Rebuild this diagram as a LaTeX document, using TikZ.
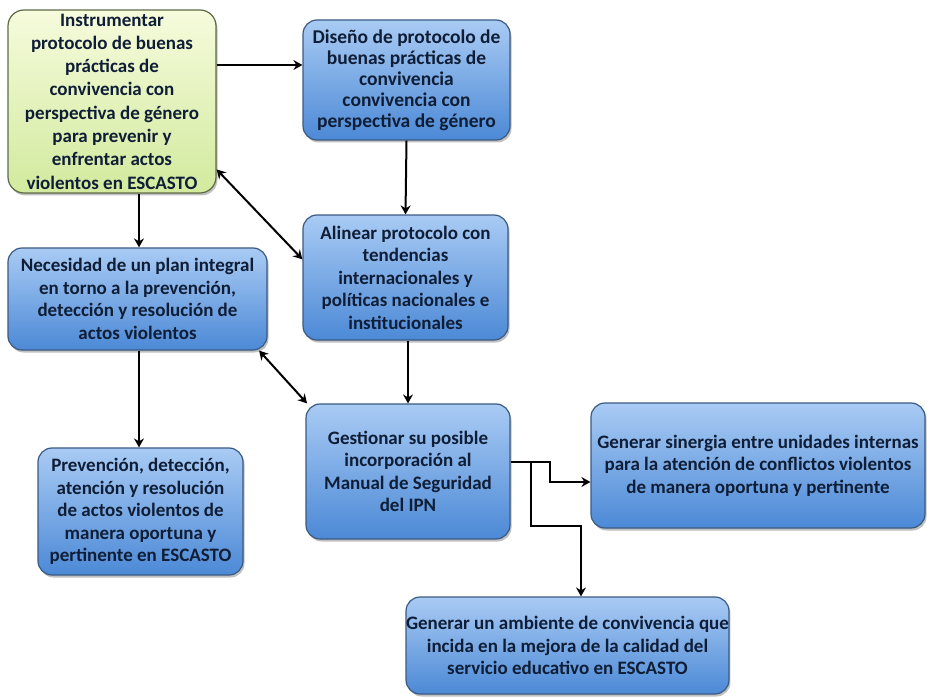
\documentclass[tikz,border=0pt]{standalone}
\usepackage{fontspec}
\setmainfont{Carlito}
\usetikzlibrary{arrows.meta,shadows,calc}
\definecolor{txt}{HTML}{0F1E36}
\definecolor{bluetop}{HTML}{A9CBF4}
\definecolor{bluebot}{HTML}{4C89D6}
\definecolor{blueedge}{HTML}{3B5A82}
\definecolor{greentop}{HTML}{F6FBDC}
\definecolor{greenbot}{HTML}{D2EA9E}
\definecolor{greenedge}{HTML}{5E6B48}
\tikzset{
  boxbase/.style={rectangle, rounded corners=14pt, line width=1.2pt, inner sep=0pt,
    align=center, text=txt, font=\bfseries\fontsize{19}{22.5}\selectfont,
    drop shadow={shadow xshift=1.5pt, shadow yshift=-2.5pt, opacity=.35, fill=black!70}},
  bluebox/.style={boxbase, draw=blueedge, top color=bluetop, bottom color=bluebot},
  greenbox/.style={boxbase, draw=greenedge, top color=greentop, bottom color=greenbot},
  arr/.style={line width=2pt, draw=black, -{Stealth[length=9pt,width=10pt,inset=3pt]}},
  dblarr/.style={line width=2pt, draw=black, {Stealth[length=9pt,width=10pt,inset=3pt]}-{Stealth[length=9pt,width=10pt,inset=3pt]}}
}
\begin{document}
\begin{tikzpicture}[x=1pt,y=-1pt]
\useasboundingbox (0,0) rectangle (927,698);
\fill[white] (0,0) rectangle (927,698);

\node[greenbox, minimum width=208pt, minimum height=183pt, rounded corners=16pt,
  font=\bfseries\fontsize{19}{23.3}\selectfont] (b1) at (112,101.5)
  {Instrumentar\\protocolo de buenas\\prácticas de\\convivencia con\\perspectiva de género\\para prevenir y\\enfrentar actos\\violentos en ESCASTO};

\node[bluebox, minimum width=207pt, minimum height=120pt,
  font=\bfseries\fontsize{19.5}{21}\selectfont] (b2) at (406.5,80)
  {Diseño de protocolo de\\buenas prácticas de\\convivencia\\convivencia con\\perspectiva de género};

\node[bluebox, minimum width=205pt, minimum height=125pt] (b3) at (405.5,277.5)
  {Alinear protocolo con\\tendencias\\internacionales y\\políticas nacionales e\\institucionales};

\node[bluebox, minimum width=259pt, minimum height=102pt] (b4) at (137.5,299)
  {Necesidad de un plan integral\\en torno a la prevención,\\detección y resolución de\\actos violentos};

\node[bluebox, minimum width=204pt, minimum height=135pt] (b5) at (408,471.5)
  {Gestionar su posible\\incorporación al\\Manual de Seguridad\\del IPN};

\node[bluebox, minimum width=205pt, minimum height=127pt] (b6) at (140.5,511.5)
  {Prevención, detección,\\atención y resolución\\de actos violentos de\\manera oportuna y\\pertinente en ESCASTO};

\node[bluebox, minimum width=334pt, minimum height=125pt] (b7) at (758,465.5)
  {Generar sinergia entre unidades internas\\para la atención de conflictos violentos\\de manera oportuna y pertinente};

\node[bluebox, minimum width=319pt, minimum height=97pt] (b8) at (567.5,645.5)
  {Generar un ambiente de convivencia que\\incida en la mejora de la calidad del\\servicio educativo en ESCASTO};

% helper coordinates
\coordinate (y65) at (0,65);
\coordinate (x139) at (139,0);
\coordinate (x408) at (408,0);
\coordinate (k1) at (550,462);
\coordinate (k2) at (550,482);
\coordinate (m1) at (531,462);
\coordinate (m2) at (531,526);
\coordinate (m3) at (581,526);

\draw[arr] (b1.east |- y65) -- (b2.west |- y65);
\draw[arr] (b2.south) -- (b3.north);
\draw[dblarr] (b1.-33.7) -- (b3.170.3);
\draw[arr] (b1.south -| x139) -- (b4.north -| x139);
\draw[arr] (b3.south -| x408) -- (b5.north -| x408);
\draw[dblarr] (b4.-23.3) -- (b5.146.7);
\draw[arr] (b4.south -| x139) -- (b6.north -| x139);
\draw[arr] (b5.east |- k1) -- (k1) -- (k2) -- (b7.west |- k2);
\draw[arr] (m1) -- (m2) -- (m3) -- (b8.north -| m3);
\end{tikzpicture}
\end{document}
